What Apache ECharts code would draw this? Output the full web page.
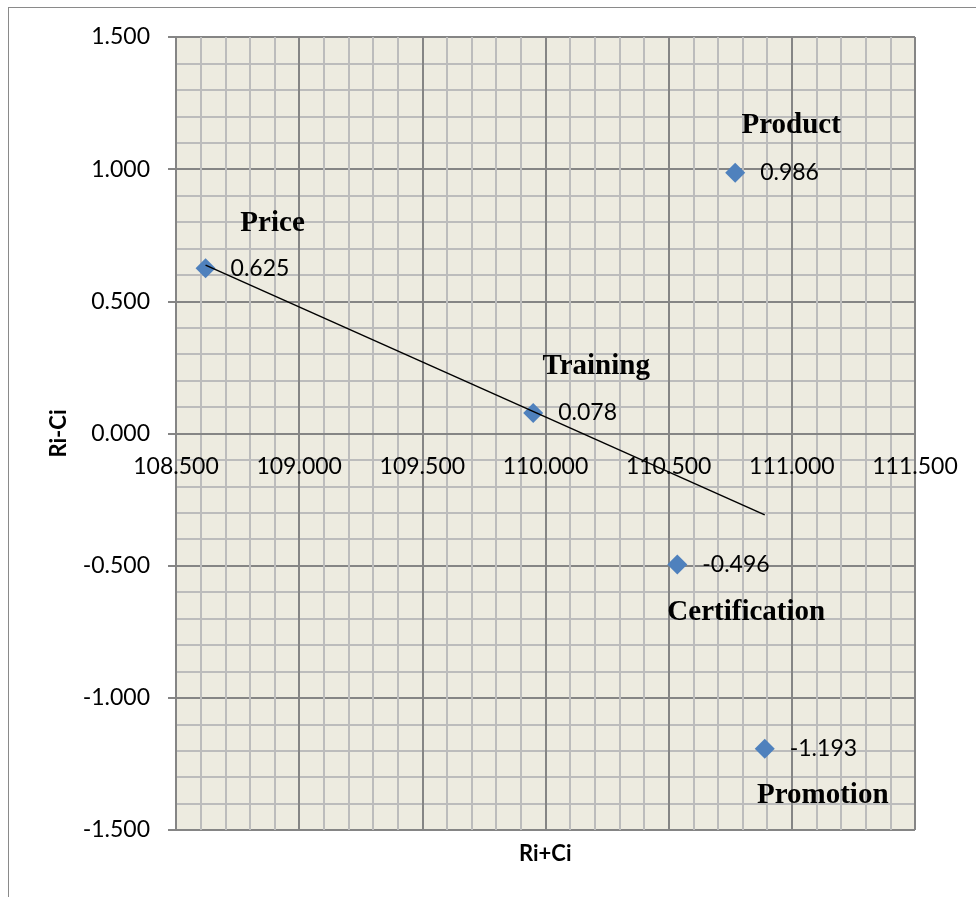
<!DOCTYPE html>
<html>
<head>
<meta charset="utf-8">
<script src="https://cdn.jsdelivr.net/npm/echarts@6/dist/echarts.min.js"></script>
<style>
  html, body { margin: 0; padding: 0; background: #ffffff; }
  #wrap { position: relative; width: 976px; height: 897px; overflow: hidden; }
  #chart { position: absolute; left: 0; top: 0; width: 976px; height: 897px; }
  #frame { position: absolute; left: 8px; top: 7px; width: 1000px; height: 1000px;
           border-left: 1.5px solid #8a8a8a; border-top: 1.5px solid #8a8a8a; pointer-events: none; }
</style>
</head>
<body>
<div id="wrap">
  <div id="chart"></div>
  <div id="frame"></div>
</div>
<script>
// ---- data ----
const factorNames = ['Price', 'Training', 'Product', 'Certification', 'Promotion'];
const riPlusCi   = [108.62, 109.95, 110.77, 110.535, 110.89];
const riMinusCi  = [0.625, 0.078, 0.986, -0.496, -1.193];
const trendX     = [108.62, 110.89];
const trendY     = [0.637, -0.308];
const xTickLabels = ['108.500', '109.000', '109.500', '110.000', '110.500', '111.000', '111.500'];
const yTickLabels = ['-1.500', '-1.000', '-0.500', '0.000', '0.500', '1.000', '1.500'];

// ---- styles ----
const nameOffsets = {
  'Price': [67, -45],
  'Training': [63, -46],
  'Product': [56, -47],
  'Certification': [69, 48],
  'Promotion': [58, 47]
};
const numFont = 'Lato, "Open Sans", sans-serif';
const majorColor = '#858585';
const minorColor = '#bcbcbc';
const gridTop = 37, gridBottom = 67, chartH = 897;

const points = factorNames.map((n, i) => ({ name: n, value: [riPlusCi[i], riMinusCi[i]] }));
const nameLabelPoints = factorNames.map((n, i) => ({
  name: n,
  value: [riPlusCi[i], riMinusCi[i]],
  label: { offset: nameOffsets[n] }
}));
const trendData = trendX.map((x, i) => [x, trendY[i]]);

const xMin = parseFloat(xTickLabels[0]), xMax = parseFloat(xTickLabels[xTickLabels.length - 1]);
const yMin = parseFloat(yTickLabels[0]), yMax = parseFloat(yTickLabels[yTickLabels.length - 1]);
// place x axis where y = 0 crosses
const plotH = chartH - gridTop - gridBottom;
const zeroOffset = -plotH * (0 - yMin) / (yMax - yMin);

const chart = echarts.init(document.getElementById('chart'), null, { renderer: 'canvas' });
chart.setOption({
  animation: false,
  backgroundColor: '#ffffff',
  grid: { left: 176, right: 61, top: gridTop, bottom: gridBottom, show: true, backgroundColor: '#edebe0', borderWidth: 0 },
  xAxis: {
    type: 'value', min: xMin, max: xMax, interval: 0.5,
    position: 'bottom', offset: zeroOffset,
    axisLine: { onZero: false, lineStyle: { color: majorColor, width: 2 } },
    axisTick: { show: false },
    axisLabel: { color: '#000', fontFamily: numFont, fontSize: 23, margin: 22,
                 formatter: v => v.toFixed(3) },
    splitLine: { show: true, lineStyle: { color: majorColor, width: 2 } },
    minorTick: { show: false, splitNumber: 5 },
    minorSplitLine: { show: true, lineStyle: { color: minorColor, width: 2 } }
  },
  yAxis: {
    type: 'value', min: yMin, max: yMax, interval: 0.5,
    name: 'Ri-Ci', nameLocation: 'middle', nameGap: 106, nameRotate: 90,
    nameTextStyle: { color: '#000', fontFamily: numFont, fontSize: 22, fontWeight: 'bold' },
    axisLine: { show: true, lineStyle: { color: majorColor, width: 2 } },
    axisTick: { show: true, length: 8, lineStyle: { color: majorColor, width: 2 } },
    axisLabel: { color: '#000', fontFamily: numFont, fontSize: 23, margin: 26,
                 formatter: v => v.toFixed(3) },
    splitLine: { show: true, lineStyle: { color: majorColor, width: 2 } },
    minorTick: { show: false, splitNumber: 5 },
    minorSplitLine: { show: true, lineStyle: { color: minorColor, width: 2 } }
  },
  graphic: [{
    type: 'text', left: 546 - 27, top: 843,
    style: { text: 'Ri+Ci', fill: '#000', font: 'bold 22px ' + numFont }
  }],
  series: [
    {
      type: 'scatter', name: 'points', data: points, symbol: 'diamond', symbolSize: 20,
      itemStyle: { color: '#4f81bd', opacity: 1 }, z: 3,
      label: { show: true, position: 'right', distance: 15, color: '#000',
               fontFamily: numFont, fontSize: 23,
               formatter: p => p.value[1].toFixed(3) }
    },
    {
      type: 'line', name: 'trend', data: trendData, showSymbol: false, symbol: 'none',
      lineStyle: { color: '#000', width: 1.5 }, z: 4, silent: true
    },
    {
      type: 'scatter', name: 'names', data: nameLabelPoints, symbol: 'circle', symbolSize: 2,
      itemStyle: { color: 'rgba(0,0,0,0)' }, z: 5, silent: true,
      label: { show: true, position: 'inside', color: '#000', textBorderWidth: 0,
               textBorderColor: 'transparent', opacity: 1,
               fontFamily: '"Liberation Serif", "Times New Roman", serif',
               fontSize: 29, fontWeight: 'bold',
               formatter: p => p.name }
    }
  ]
});
</script>
</body>
</html>
